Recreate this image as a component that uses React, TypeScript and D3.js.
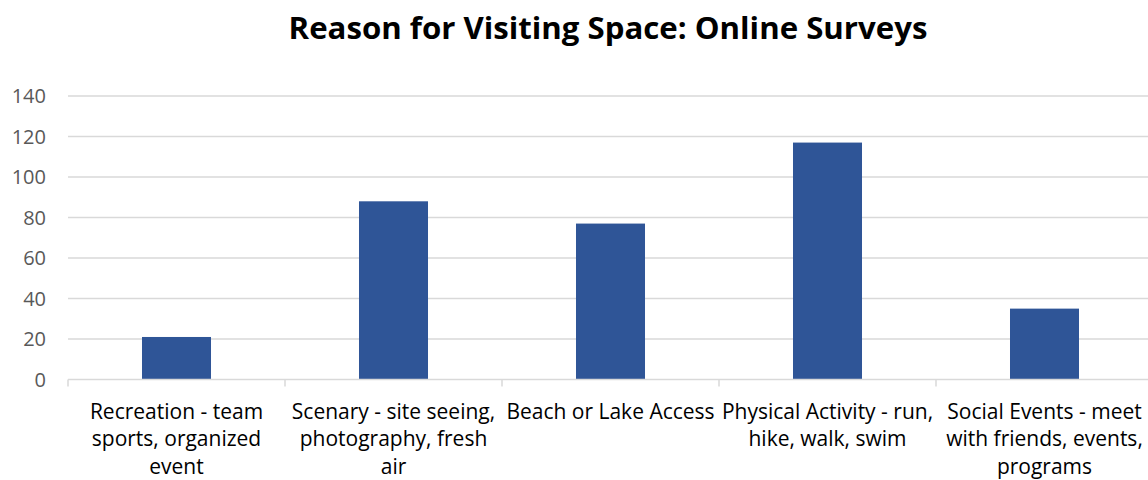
import React from "react";
import * as d3 from "d3";

const categories = [
  "Recreation - team sports, organized event",
  "Scenary - site seeing, photography, fresh air",
  "Beach or Lake Access",
  "Physical Activity - run, hike, walk, swim",
  "Social Events - meet with friends, events, programs",
];
const labelLines = [
  ["Recreation - team", "sports, organized", "event"],
  ["Scenary - site seeing,", "photography, fresh", "air"],
  ["Beach or Lake Access"],
  ["Physical Activity - run,", "hike, walk, swim"],
  ["Social Events - meet", "with friends, events,", "programs"],
];
const values = [21, 88, 77, 117, 35];
const yTicks = [0, 20, 40, 60, 80, 100, 120, 140];
const title = "Reason for Visiting Space: Online Surveys";

const W = 1148;
const H = 480;
const FONT = "'Open Sans', sans-serif";

export default function App() {
  const left = 68;
  const right = 1153;
  const top = 96;
  const bottom = 379.5;

  const x = d3.scaleBand<string>().domain(categories).range([left, right]).paddingInner(0.682).paddingOuter(0.341);
  const xOuter = d3.scaleBand<string>().domain(categories).range([left, right]).padding(0);
  const y = d3.scaleLinear().domain([0, 140]).range([bottom, top]);

  return (
    <svg width={W} height={H} style={{ position: "absolute", left: 0, top: 0, background: "#fff" }} fontFamily={FONT}>
      <rect x={0} y={0} width={W} height={H} fill="#fff" />
      <text x={608} y={39} textAnchor="middle" fontSize={31.2} fontWeight="bold" fill="#000">
        {title}
      </text>
      {yTicks.map((t) => (
        <g key={t}>
          {t > 0 && <line x1={left} x2={right} y1={y(t)} y2={y(t)} stroke="#d9d9d9" strokeWidth={1.5} />}
          <text x={46} y={y(t)} dy="0.36em" textAnchor="end" fontSize={20} fill="#595959">
            {t}
          </text>
        </g>
      ))}
      {categories.map((c, i) => (
        <rect key={c} x={x(c)} y={y(values[i])} width={x.bandwidth()} height={y(0) - y(values[i])} fill="#2F5597" />
      ))}
      <line x1={left} x2={right} y1={y(0)} y2={y(0)} stroke="#d9d9d9" strokeWidth={1.5} />
      {categories.map((c) => (
        <line key={"t" + c} x1={xOuter(c)!} x2={xOuter(c)!} y1={y(0)} y2={y(0) + 7} stroke="#d9d9d9" strokeWidth={1.5} />
      ))}
      <line x1={right} x2={right} y1={y(0)} y2={y(0) + 7} stroke="#d9d9d9" strokeWidth={1.5} />
      {categories.map((c, i) => (
        <text key={"l" + c} textAnchor="middle" fontSize={21} fill="#000">
          {labelLines[i].map((ln, j) => (
            <tspan key={j} x={xOuter(c)! + xOuter.bandwidth() / 2} y={418.5 + j * 27.8}>
              {ln}
            </tspan>
          ))}
        </text>
      ))}
    </svg>
  );
}
